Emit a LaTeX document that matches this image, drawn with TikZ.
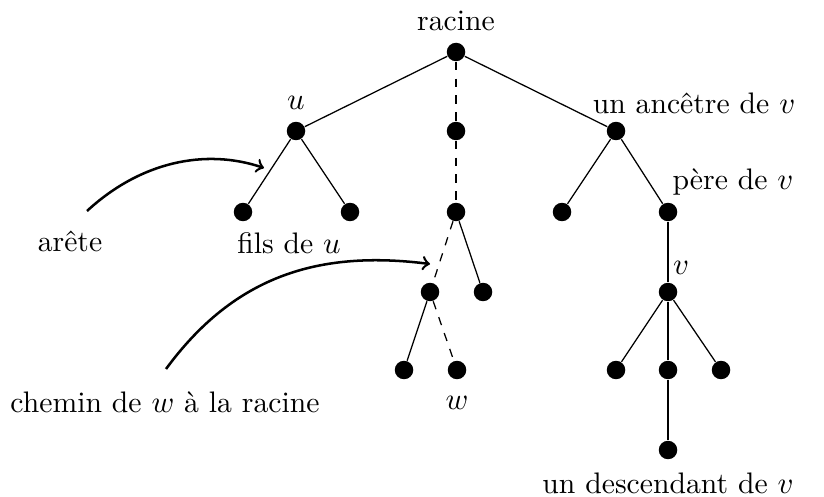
\documentclass[tikz,border=0pt]{standalone}
\begin{document}
\begin{tikzpicture}[x=0.357pt,y=-0.357pt,
  dot/.style={circle,fill=black,inner sep=0pt,minimum size=6.6pt},
  edge/.style={line width=0.45pt},
  dedge/.style={line width=0.45pt,dashed},
  callout/.style={line width=0.9pt,->},
  lab/.style={inner sep=0pt,font=\fontsize{10.6pt}{13pt}\selectfont}]
\useasboundingbox (0,0) rectangle (824,497);
% nodes
\node[dot] (r) at (456,52) {};
\node[dot] (u) at (296,131) {};
\node[dot] (m) at (456,131) {};
\node[dot] (a) at (616,131) {};
\node[dot] (u1) at (243,212) {};
\node[dot] (u2) at (350,212) {};
\node[dot] (m1) at (456,212) {};
\node[dot] (a1) at (562,212) {};
\node[dot] (p) at (668,212) {};
\node[dot] (m11) at (430,292) {};
\node[dot] (m12) at (483,292) {};
\node[dot] (v) at (668,292) {};
\node[dot] (m111) at (404,370) {};
\node[dot] (w) at (457,370) {};
\node[dot] (v1) at (616,370) {};
\node[dot] (v2) at (668,370) {};
\node[dot] (v3) at (721,370) {};
\node[dot] (d) at (668,450) {};
% edges
\draw[edge] (r) -- (u);
\draw[dedge] (r) -- (m);
\draw[edge] (r) -- (a);
\draw[edge] (u) -- (u1);
\draw[edge] (u) -- (u2);
\draw[dedge] (m) -- (m1);
\draw[edge] (a) -- (a1);
\draw[edge] (a) -- (p);
\draw[dedge] (m1) -- (m11);
\draw[edge] (m1) -- (m12);
\draw[edge] (p) -- (v);
\draw[edge] (m11) -- (m111);
\draw[dedge] (m11) -- (w);
\draw[edge] (v) -- (v1);
\draw[edge] (v) -- (v2);
\draw[edge] (v) -- (v3);
\draw[edge] (v2) -- (d);
% labels
\node[lab] (lr) at (456,21) {racine};
\node[lab] (lu) at (296,103) {$u$};
\node[lab] (la) at (694,103) {un ancêtre de $v$};
\node[lab] (lp) at (733,182) {père de $v$};
\node[lab] (lv) at (681,268) {$v$};
\node[lab] (lf) at (289,243) {fils de $u$};
\node[lab] (lw) at (457,403) {$w$};
\node[lab] (ld) at (668,483) {un descendant de $v$};
\node[lab] (le) at (70,241) {arête};
\node[lab] (lc) at (165,402) {chemin de $w$ à la racine};
% callouts
\coordinate (e1) at (87,211);
\coordinate (e2) at (264,168);
\coordinate (c1) at (166,369);
\coordinate (c2) at (430,264);
\draw[callout] (e1) .. controls (140,162) and (205,148) .. (e2);
\draw[callout] (c1) .. controls (235,275) and (320,250) .. (c2);
\end{tikzpicture}
\end{document}
